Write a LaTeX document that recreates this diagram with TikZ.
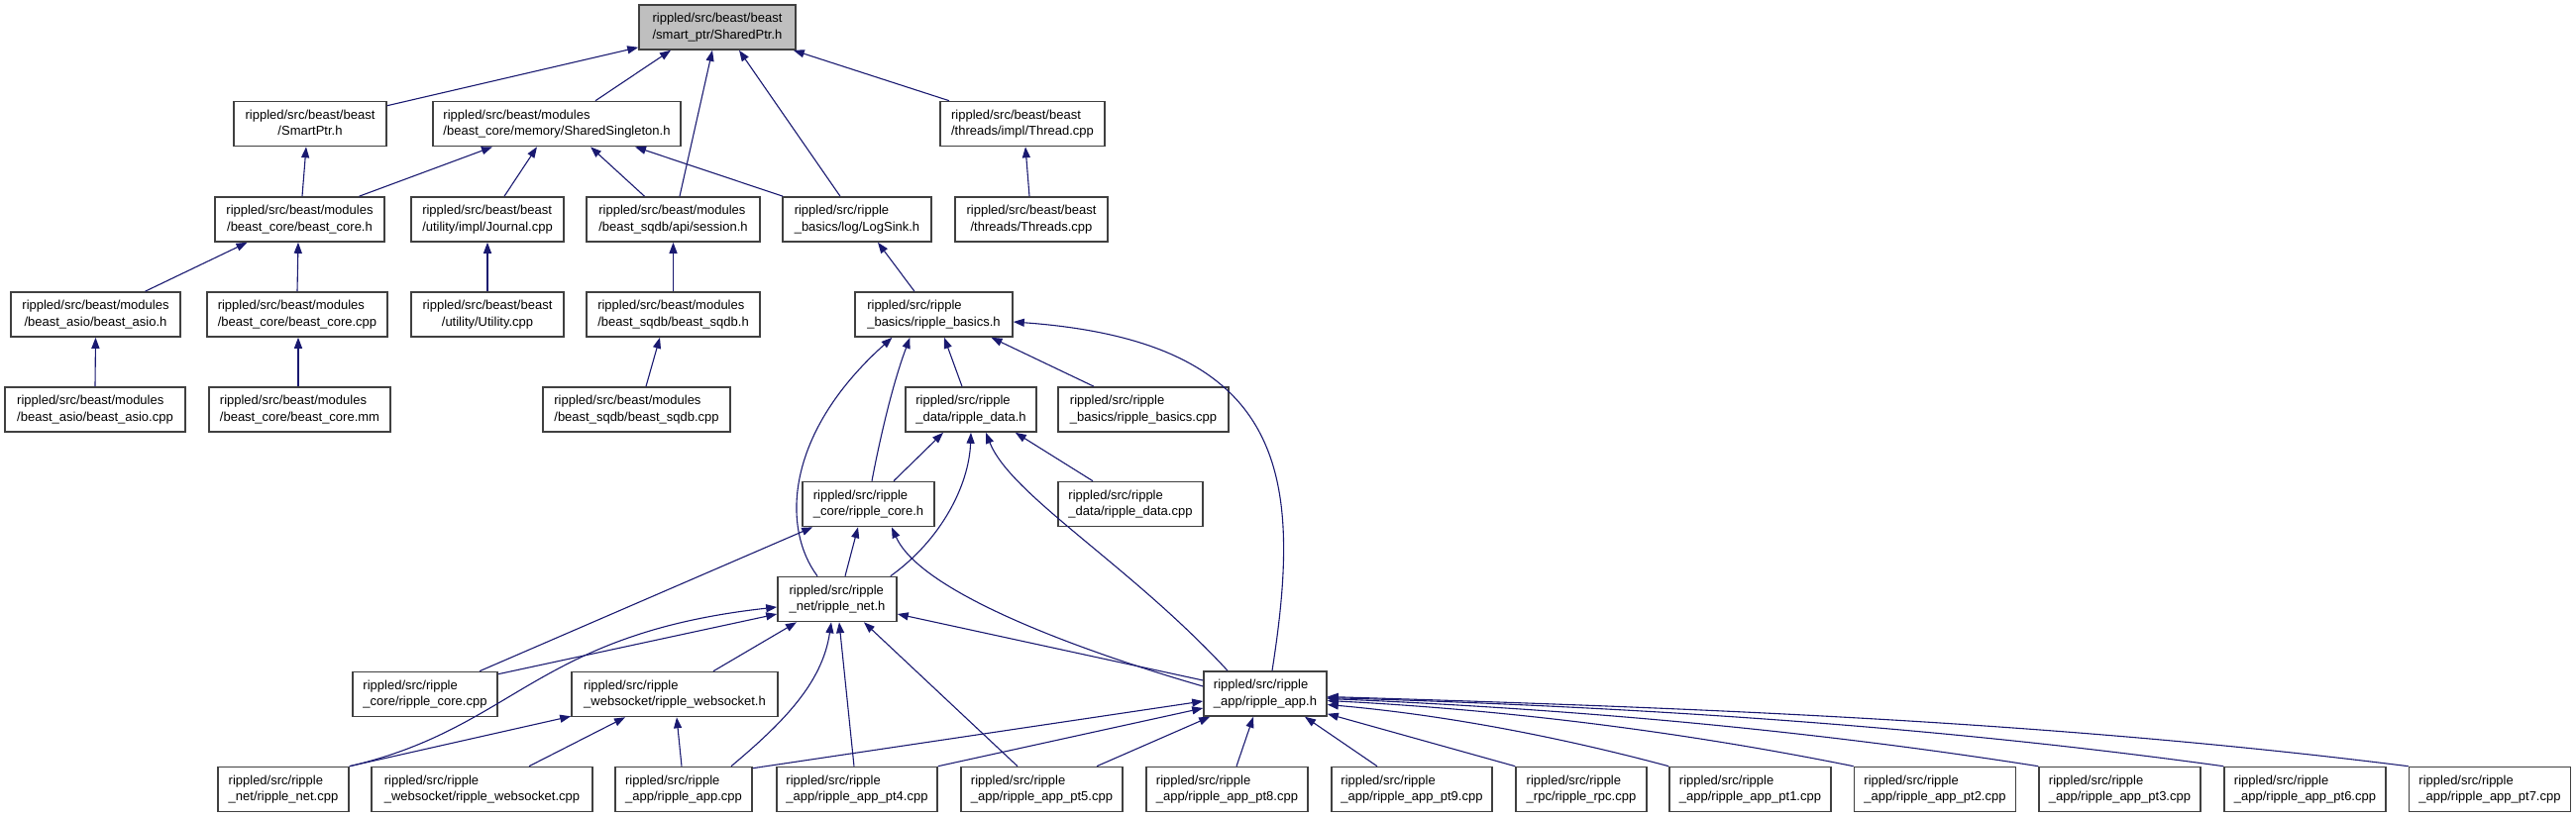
\documentclass[tikz,border=0pt]{standalone}
\usepackage{fontspec}
\setmainfont{Liberation Sans}
\usepackage{tikz}
\usetikzlibrary{arrows.meta, calc}
\definecolor{depblue} {HTML}{191970}
\definecolor{topgray} {HTML}{BFBFBF}
\newcommand{\flbl}[2]{\begin{tabular}{@{}l@{}}#1\\\multicolumn{1}{@{}c@{}}{#2}\end{tabular}}

\begin{document}
\begin{tikzpicture}[x=1pt, y=-1pt,
    incfile/.style={draw=black!75, line width=1.6pt, fill=white, inner sep=0pt,
      minimum height=45pt, font=\fontsize{13}{16.5}\selectfont},
    dep/.style={draw=depblue, line width=1.1pt, -{Triangle[length=11pt, width=8pt]}}]
  \useasboundingbox (0,0) rectangle (2600,827);

  % beast side
  \node[incfile, fill=topgray, minimum width=158pt] (sharedptr) at (724,27.5)
    {\flbl{rippled/src/beast/beast}{/smart\_ptr/SharedPtr.h}};
  \node[incfile, minimum width=154pt] (smartptr) at (313,125)
    {\flbl{rippled/src/beast/beast}{/SmartPtr.h}};
  \node[incfile, minimum width=250pt] (singleton) at (562,125)
    {\flbl{rippled/src/beast/modules}{/beast\_core/memory/SharedSingleton.h}};
  \node[incfile, minimum width=166pt] (thread) at (1032,125)
    {\flbl{rippled/src/beast/beast}{/threads/impl/Thread.cpp}};
  \node[incfile, minimum width=171pt] (beastcoreh) at (302.5,221.5)
    {\flbl{rippled/src/beast/modules}{/beast\_core/beast\_core.h}};
  \node[incfile, minimum width=154pt] (journal) at (492,221.5)
    {\flbl{rippled/src/beast/beast}{/utility/impl/Journal.cpp}};
  \node[incfile, minimum width=175pt] (session) at (679.5,221.5)
    {\flbl{rippled/src/beast/modules}{/beast\_sqdb/api/session.h}};
  \node[incfile, minimum width=150pt] (logsink) at (865,221.5)
    {\flbl{rippled/src/ripple}{\_basics/log/LogSink.h}};
  \node[incfile, minimum width=154pt] (threads) at (1041,221.5)
    {\flbl{rippled/src/beast/beast}{/threads/Threads.cpp}};
  \node[incfile, minimum width=171pt] (beastasioh) at (96.5,317.5)
    {\flbl{rippled/src/beast/modules}{/beast\_asio/beast\_asio.h}};
  \node[incfile, minimum width=182pt] (beastcorecpp) at (300,317.5)
    {\flbl{rippled/src/beast/modules}{/beast\_core/beast\_core.cpp}};
  \node[incfile, minimum width=154pt] (utility) at (492,317.5)
    {\flbl{rippled/src/beast/beast}{/utility/Utility.cpp}};
  \node[incfile, minimum width=175pt] (sqdbh) at (679.5,317.5)
    {\flbl{rippled/src/beast/modules}{/beast\_sqdb/beast\_sqdb.h}};
  \node[incfile, minimum width=182pt] (beastasiocpp) at (96,413.5)
    {\flbl{rippled/src/beast/modules}{/beast\_asio/beast\_asio.cpp}};
  \node[incfile, minimum width=183pt] (beastcoremm) at (302.5,413.5)
    {\flbl{rippled/src/beast/modules}{/beast\_core/beast\_core.mm}};
  \node[incfile, minimum width=189pt] (sqdbcpp) at (642.5,413.5)
    {\flbl{rippled/src/beast/modules}{/beast\_sqdb/beast\_sqdb.cpp}};

  % ripple side
  \node[incfile, minimum width=159pt] (basicsh) at (942.5,317.5)
    {\flbl{rippled/src/ripple}{\_basics/ripple\_basics.h}};
  \node[incfile, minimum width=132pt] (datah) at (980,413.5)
    {\flbl{rippled/src/ripple}{\_data/ripple\_data.h}};
  \node[incfile, minimum width=172pt] (basicscpp) at (1154,413.5)
    {\flbl{rippled/src/ripple}{\_basics/ripple\_basics.cpp}};
  \node[incfile, minimum width=133pt] (coreh) at (876.5,509)
    {\flbl{rippled/src/ripple}{\_core/ripple\_core.h}};
  \node[incfile, minimum width=146pt] (datacpp) at (1141,509)
    {\flbl{rippled/src/ripple}{\_data/ripple\_data.cpp}};
  \node[incfile, minimum width=120pt] (neth) at (845,605)
    {\flbl{rippled/src/ripple}{\_net/ripple\_net.h}};
  \node[incfile, minimum width=146pt] (corecpp) at (429,701)
    {\flbl{rippled/src/ripple}{\_core/ripple\_core.cpp}};
  \node[incfile, minimum width=208pt] (wsh) at (681,701)
    {\flbl{rippled/src/ripple}{\_websocket/ripple\_websocket.h}};
  \node[incfile, minimum width=124pt] (apph) at (1277,700.5)
    {\flbl{rippled/src/ripple}{\_app/ripple\_app.h}};
  \node[incfile, minimum width=132pt] (netcpp) at (286,797)
    {\flbl{rippled/src/ripple}{\_net/ripple\_net.cpp}};
  \node[incfile, minimum width=223pt] (wscpp) at (486.5,797)
    {\flbl{rippled/src/ripple}{\_websocket/ripple\_websocket.cpp}};
  \node[incfile, minimum width=138pt] (appcpp) at (690,797)
    {\flbl{rippled/src/ripple}{\_app/ripple\_app.cpp}};
  \node[incfile, minimum width=162pt] (pt4) at (865,797)
    {\flbl{rippled/src/ripple}{\_app/ripple\_app\_pt4.cpp}};
  \node[incfile, minimum width=163pt] (pt5) at (1051.5,797)
    {\flbl{rippled/src/ripple}{\_app/ripple\_app\_pt5.cpp}};
  \node[incfile, minimum width=163pt] (pt8) at (1238.5,797)
    {\flbl{rippled/src/ripple}{\_app/ripple\_app\_pt8.cpp}};
  \node[incfile, minimum width=162pt] (pt9) at (1425,797)
    {\flbl{rippled/src/ripple}{\_app/ripple\_app\_pt9.cpp}};
  \node[incfile, minimum width=132pt] (rpc) at (1596,797)
    {\flbl{rippled/src/ripple}{\_rpc/ripple\_rpc.cpp}};

  % edges, tip at the included file
  \draw[dep] ([yshift=-5pt]smartptr.north east) -- ([yshift=3pt]sharedptr.south west);
  \draw[dep] ([xshift=39pt]singleton.north) -- ([xshift=-47pt]sharedptr.south);
  \draw[dep] ([xshift=6.5pt]session.north) -- ([xshift=-5pt]sharedptr.south);
  \draw[dep] ([xshift=-17pt]logsink.north) -- ([xshift=22pt]sharedptr.south);
  \draw[dep] ([xshift=-74pt]thread.north) -- ([xshift=-3pt]sharedptr.south east);
  \draw[dep] ([xshift=2.5pt]beastcoreh.north) -- ([xshift=-4pt]smartptr.south);
  \draw[dep] ([xshift=60pt]beastcoreh.north) -- ([xshift=-65pt]singleton.south);
  \draw[dep] ([xshift=17pt]journal.north) -- ([xshift=-20pt]singleton.south);
  \draw[dep] ([xshift=-29pt]session.north) -- ([xshift=34pt]singleton.south);
  \draw[dep] ([xshift=1pt]logsink.north west) -- ([xshift=79pt]singleton.south);
  \draw[dep] ([xshift=-2pt]threads.north) -- ([xshift=3pt]thread.south);
  \draw[dep] ([xshift=50pt]beastasioh.north) -- ([xshift=-53pt]beastcoreh.south);
  \draw[dep] (beastcorecpp.north) -- ([xshift=-1.5pt]beastcoreh.south);
  \draw[dep] (utility.north) -- (journal.south);
  \draw[dep] (sqdbh.north) -- (session.south);
  \draw[dep] ([xshift=-19.5pt]basicsh.north) -- ([xshift=21pt]logsink.south);
  \draw[dep] (beastasiocpp.north) -- (beastasioh.south);
  \draw[dep] ([xshift=-1.5pt]beastcoremm.north) -- ([xshift=1pt]beastcorecpp.south);
  \draw[dep] ([xshift=9.5pt]sqdbcpp.north) -- ([xshift=-13.5pt]sqdbh.south);

  \draw[dep] ([xshift=-9pt]datah.north) -- ([xshift=10.5pt]basicsh.south);
  \draw[dep] ([xshift=-50pt]basicscpp.north) -- ([xshift=58pt]basicsh.south);
  \draw[dep] ([xshift=3.5pt]coreh.north) .. controls (884,464) and (898,395) .. ([xshift=-24pt]basicsh.south);
  \draw[dep] ([xshift=-20pt]neth.north) .. controls (790,535) and (790,440) .. ([xshift=-42pt]basicsh.south);
  \draw[dep] ([xshift=7pt]apph.north) .. controls (1315,480) and (1300,345) .. ([yshift=-7.5pt]basicsh.east);
  \draw[dep] ([xshift=25.5pt]coreh.north) -- ([xshift=-28pt]datah.south);
  \draw[dep] ([xshift=-7pt]neth.north east) .. controls (950,545) and (978,490) .. (datah.south);
  \draw[dep] ([xshift=-38pt]apph.north) .. controls (1140,570) and (1020,500) .. ([xshift=15pt]datah.south);
  \draw[dep] ([xshift=-38pt]datacpp.north) -- ([xshift=-22pt]datah.south east);
  \draw[dep] ([xshift=8pt]neth.north) -- ([xshift=-10.5pt]coreh.south);
  \draw[dep] ([xshift=55pt]corecpp.north) -- ([xshift=11pt]coreh.south west);
  \draw[dep] ([yshift=7.5pt]apph.west) .. controls (1100,660) and (930,600) .. ([xshift=23.5pt]coreh.south);
  \draw[dep] ([yshift=-3pt]corecpp.north east) -- ([yshift=-15pt]neth.west);
  \draw[dep] (netcpp.north east) .. controls (520,735) and (540,640) .. ([yshift=-8pt]neth.west);
  \draw[dep] ([xshift=39pt]wsh.north) -- ([xshift=-41pt]neth.south);
  \draw[dep] ([xshift=48pt]appcpp.north) .. controls (790,730) and (830,690) .. ([xshift=-6pt]neth.south);
  \draw[dep] ([xshift=-3pt]pt4.north) -- ([xshift=2pt]neth.south);
  \draw[dep] ([xshift=-24.5pt]pt5.north) -- ([xshift=27pt]neth.south);
  \draw[dep] ([yshift=13.5pt]apph.west) -- ([yshift=-15pt]neth.east);
  \draw[dep] (netcpp.north east) -- ([yshift=1pt]wsh.south west);
  \draw[dep] ([xshift=47.5pt]wscpp.north) -- ([xshift=-50pt]wsh.south);
  \draw[dep] ([xshift=-2pt]appcpp.north) -- ([xshift=2pt]wsh.south);
  \draw[dep] ([yshift=-2pt]appcpp.north east) -- ([yshift=-7.5pt]apph.west);
  \draw[dep] (pt4.north east) -- ([yshift=-14.5pt]apph.west);
  \draw[dep] ([xshift=55.5pt]pt5.north) -- ([xshift=7pt]apph.south west);
  \draw[dep] ([xshift=9.5pt]pt8.north) -- ([xshift=-12pt]apph.south);
  \draw[dep] ([xshift=-35pt]pt9.north) -- ([xshift=40pt]apph.south);
  \draw[dep] (rpc.north west) -- ([yshift=3pt]apph.south east);

  % the remaining app parts, fanned in from the right
  \foreach \n/\x/\dy/\ax/\ay/\bx/\by in {%
      1/1766.5/-11/1570/743/1454/721.5,
      2/1953/-7/1694/738/1517/716.5,
      3/2139.5/-5/1818/736/1579/715.5,
      6/2326.5/-4/1943/732/1641/713.5,
      7/2513/-3/2068/728/1703/714.5}
  {
    \node[incfile, minimum width=163pt] (pt\n) at (\x,797)
      {\flbl{rippled/src/ripple}{\_app/ripple\_app\_pt\n.cpp}};
    \draw[dep] (pt\n.north west) .. controls (\ax,\ay) and (\bx,\by) .. ([yshift=\dy pt]apph.east);
  }
\end{tikzpicture}
\end{document}
